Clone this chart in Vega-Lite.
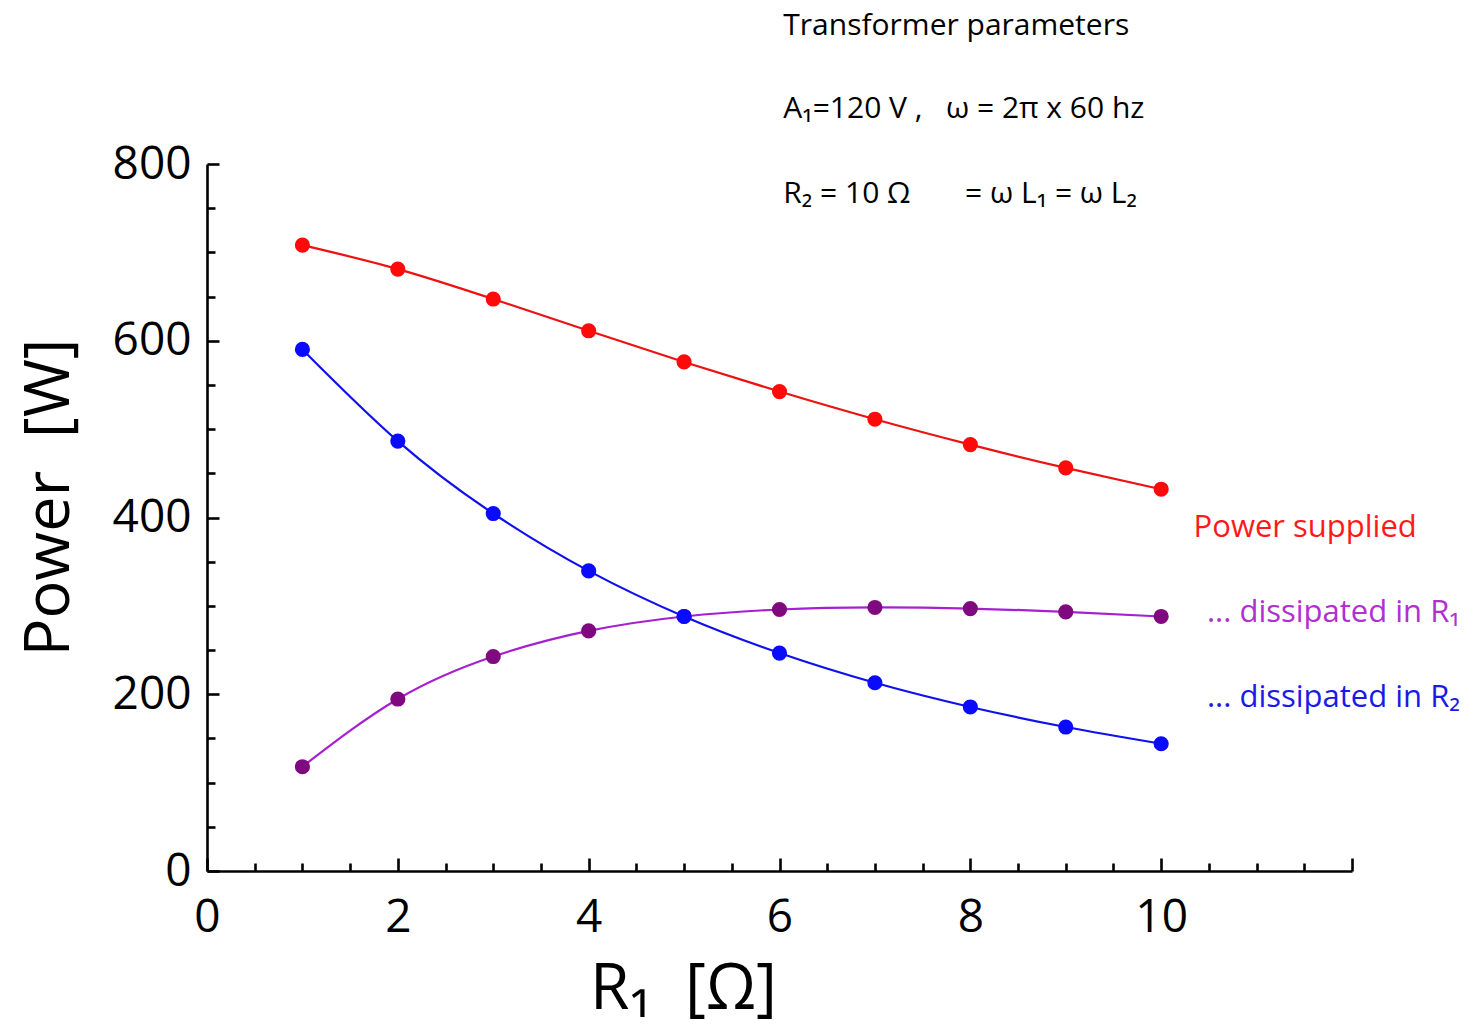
{
  "$schema": "https://vega.github.io/schema/vega-lite/v6.json",
  "width": 1145,
  "height": 707,
  "autosize": {"type": "none"},
  "padding": {"left": 207, "top": 164, "right": 127, "bottom": 155},
  "background": "white",
  "config": {
    "view": {"stroke": null},
    "font": "Open Sans",
    "axis": {"grid": false, "domainColor": "black", "tickColor": "black", "domainWidth": 2.6, "tickWidth": 2.6, "labelColor": "black", "titleColor": "black", "labelFont": "Open Sans", "titleFont": "Open Sans", "titleFontWeight": "normal", "labelFlush": false, "labelOverlap": false}
  },
  "datasets": {
    "curves": [
      {"R1": 1, "P": 708.2, "series": "Power supplied"},
      {"R1": 2, "P": 681.1, "series": "Power supplied"},
      {"R1": 3, "P": 647.2, "series": "Power supplied"},
      {"R1": 4, "P": 611.3, "series": "Power supplied"},
      {"R1": 5, "P": 576.0, "series": "Power supplied"},
      {"R1": 6, "P": 542.5, "series": "Power supplied"},
      {"R1": 7, "P": 511.2, "series": "Power supplied"},
      {"R1": 8, "P": 482.5, "series": "Power supplied"},
      {"R1": 9, "P": 456.1, "series": "Power supplied"},
      {"R1": 10, "P": 432.0, "series": "Power supplied"},
      {"R1": 1, "P": 118.0, "series": "dissipated in R1"},
      {"R1": 2, "P": 194.6, "series": "dissipated in R1"},
      {"R1": 3, "P": 242.7, "series": "dissipated in R1"},
      {"R1": 4, "P": 271.7, "series": "dissipated in R1"},
      {"R1": 5, "P": 288.0, "series": "dissipated in R1"},
      {"R1": 6, "P": 295.9, "series": "dissipated in R1"},
      {"R1": 7, "P": 298.2, "series": "dissipated in R1"},
      {"R1": 8, "P": 296.9, "series": "dissipated in R1"},
      {"R1": 9, "P": 293.2, "series": "dissipated in R1"},
      {"R1": 10, "P": 288.0, "series": "dissipated in R1"},
      {"R1": 1, "P": 590.2, "series": "dissipated in R2"},
      {"R1": 2, "P": 486.5, "series": "dissipated in R2"},
      {"R1": 3, "P": 404.5, "series": "dissipated in R2"},
      {"R1": 4, "P": 339.6, "series": "dissipated in R2"},
      {"R1": 5, "P": 288.0, "series": "dissipated in R2"},
      {"R1": 6, "P": 246.6, "series": "dissipated in R2"},
      {"R1": 7, "P": 213.0, "series": "dissipated in R2"},
      {"R1": 8, "P": 185.6, "series": "dissipated in R2"},
      {"R1": 9, "P": 162.9, "series": "dissipated in R2"},
      {"R1": 10, "P": 144.0, "series": "dissipated in R2"}
    ],
    "notes": [
      {"text": "Transformer parameters", "x": 6.04, "y": 946},
      {"text": "A₁=120 V ,\u00a0\u00a0 ω = 2π x 60 hz", "x": 6.04, "y": 852},
      {"text": "R₂ = 10 Ω\u00a0\u00a0\u00a0\u00a0\u00a0\u00a0 = ω L₁ = ω L₂", "x": 6.04, "y": 756}
    ],
    "labels": [
      {"series": "Power supplied", "text": "Power supplied", "x": 10.34, "y": 378},
      {"series": "dissipated in R1", "text": "... dissipated in R₁", "x": 10.48, "y": 282},
      {"series": "dissipated in R2", "text": "... dissipated in R₂", "x": 10.48, "y": 186}
    ]
  },
  "resolve": {"scale": {"color": "independent"}, "axis": {"x": "independent", "y": "independent"}},
  "layer": [
    {
      "data": {"name": "curves"},
      "mark": {"type": "line", "interpolate": "natural", "strokeWidth": 2.2},
      "encoding": {
        "x": {"field": "R1", "type": "quantitative", "scale": {"domain": [0, 12], "nice": false},
          "axis": {"orient": "bottom", "values": [0, 2, 4, 6, 8, 10, 12], "tickSize": -13, "labelExpr": "datum.value == 12 ? '' : datum.label", "labelFontSize": 46, "labelPadding": 37, "labelBaseline": "top", "title": "R₁\u00a0\u00a0[Ω]", "titleFontSize": 64, "titleX": 476, "titleY": 137, "titleBaseline": "alphabetic", "titleAlign": "center"}},
        "y": {"field": "P", "type": "quantitative", "scale": {"domain": [0, 800], "nice": false},
          "axis": {"orient": "left", "values": [0, 200, 400, 600, 800], "tickSize": -12, "labelFontSize": 46, "labelPadding": 28, "title": "Power\u00a0\u00a0[W]", "titleFontSize": 63, "titleAngle": -90, "titleX": -139, "titleY": 333, "titleBaseline": "alphabetic", "titleAlign": "center"}},
        "color": {"field": "series", "type": "nominal", "legend": null,
          "scale": {"domain": ["Power supplied", "dissipated in R1", "dissipated in R2"], "range": ["#ee1111", "#a61fd0", "#1010ee"]}}
      }
    },
    {
      "data": {"name": "curves"},
      "mark": {"type": "point", "filled": true, "opacity": 1, "size": 230},
      "encoding": {
        "x": {"field": "R1", "type": "quantitative", "scale": {"domain": [0, 12], "nice": false},
          "axis": {"orient": "bottom", "values": [0.5, 1, 1.5, 2.5, 3, 3.5, 4.5, 5, 5.5, 6.5, 7, 7.5, 8.5, 9, 9.5, 10.5, 11, 11.5], "tickSize": -8, "labels": false, "domain": false, "title": null}},
        "y": {"field": "P", "type": "quantitative", "scale": {"domain": [0, 800], "nice": false},
          "axis": {"orient": "left", "values": [50, 100, 150, 250, 300, 350, 450, 500, 550, 650, 700, 750], "tickSize": -8, "labels": false, "domain": false, "title": null}},
        "color": {"field": "series", "type": "nominal", "legend": null,
          "scale": {"domain": ["Power supplied", "dissipated in R1", "dissipated in R2"], "range": ["#ff0a0a", "#7f0a80", "#0a0aff"]}}
      }
    },
    {
      "data": {"name": "notes"},
      "mark": {"type": "text", "align": "left", "baseline": "alphabetic", "fontSize": 30, "color": "black", "font": "Open Sans"},
      "encoding": {
        "x": {"field": "x", "type": "quantitative", "axis": null},
        "y": {"field": "y", "type": "quantitative", "axis": null},
        "text": {"field": "text"}
      }
    },
    {
      "data": {"name": "labels"},
      "mark": {"type": "text", "align": "left", "baseline": "alphabetic", "fontSize": 31, "font": "Open Sans"},
      "encoding": {
        "x": {"field": "x", "type": "quantitative", "axis": null},
        "y": {"field": "y", "type": "quantitative", "axis": null},
        "text": {"field": "text"},
        "color": {"field": "series", "type": "nominal", "legend": null,
          "scale": {"domain": ["Power supplied", "dissipated in R1", "dissipated in R2"], "range": ["#ff1a1a", "#b030d0", "#1a1ae6"]}}
      }
    }
  ]
}
